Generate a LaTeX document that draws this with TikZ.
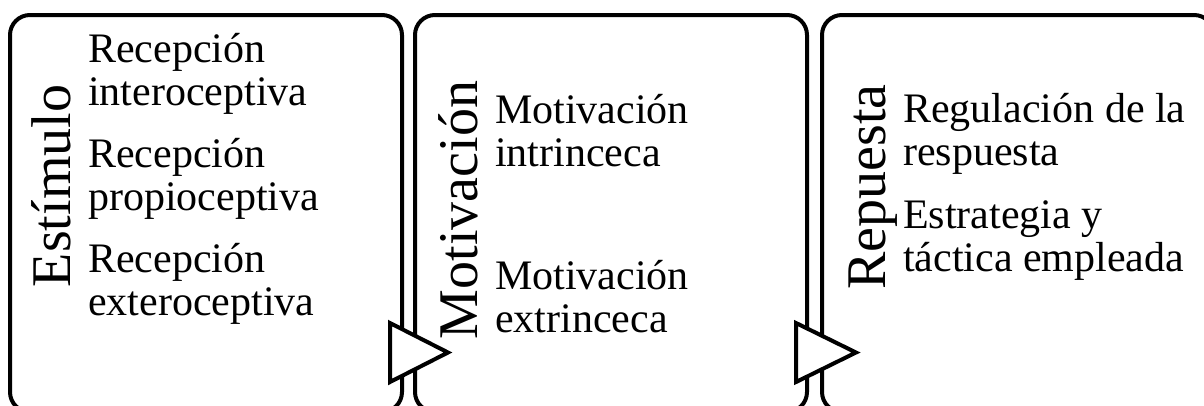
\documentclass[tikz,border=0pt]{standalone}
\usepackage{fontspec}
\setmainfont{Liberation Serif}
\usetikzlibrary{positioning}

\begin{document}
\begin{tikzpicture}[x=1pt,y=-1pt]
                \tikzstyle{stage}=[draw, line width=4pt, rounded corners=20pt, minimum width=392pt, minimum height=397pt, inner sep=0pt, outer sep=0pt]
                \tikzstyle{title}=[rotate=90, anchor=base, inner sep=0pt, font=\fontsize{56}{60}\selectfont]
                \tikzstyle{item}=[anchor=base west, align=left, inner sep=0pt, font=\fontsize{42}{43}\selectfont]
                \tikzstyle{pointer}=[draw, line width=4pt, fill=white]
                
                \path[use as bounding box, clip] (0,0) rectangle (1204,405);
                
                \node[stage, anchor=north west] (est) at (10,15) {};
                \node[stage, right=13pt of est] (mot) {};
                \node[stage, right=15pt of mot] (res) {};
                
                \node[title] (t1) at (70,186) {Estímulo};
                \node[title] (t2) at (477,210) {Motivación};
                \node[title] (t3) at (885,187) {Repuesta};
                
                % base is the last line
                \node[item] (e1) at (88,105) {Recepción\\interoceptiva};
                \node[item] (e2) at (88,210) {Recepción\\propioceptiva};
                \node[item] (e3) at (88,315) {Recepción\\exteroceptiva};
                
                \node[item] (m1) at (495,166) {Motivación\\intrinceca};
                \node[item] (m2) at (495,332) {Motivación\\extrinceca};
                
                \node[item] (r1) at (903,165) {Regulación de la\\respuesta};
                \node[item] (r2) at (903,271) {Estrategia y\\táctica empleada};
                
                \draw[pointer] (390,323) -- (448,352.5) -- (390,382) -- cycle;
                \draw[pointer] (796,323) -- (856,352.5) -- (796,382) -- cycle;
\end{tikzpicture}
\end{document}
